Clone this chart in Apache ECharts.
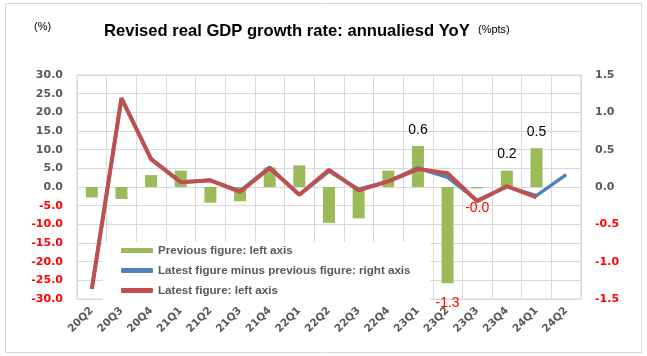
<!DOCTYPE html>
<html>
<head>
<meta charset="utf-8">
<script src="https://cdn.jsdelivr.net/npm/echarts@6/dist/echarts.min.js"></script>
<style>html,body{margin:0;padding:0;background:#fff}#c{width:647px;height:356px}</style>
</head>
<body>
<div id="c"></div>
<script>
const categories = ['20Q2','20Q3','20Q4','21Q1','21Q2','21Q3','21Q4','22Q1','22Q2','22Q3','22Q4','23Q1','23Q2','23Q3','23Q4','24Q1','24Q2'];
// green bars (right axis, %pts)
const barValues = [-0.14,-0.16,0.16,0.22,-0.21,-0.19,0.26,0.29,-0.48,-0.42,0.22,0.55,-1.29,-0.02,0.22,0.52,null];
// blue line (left axis, %)
const blueValues = [-27.3,23.8,7.6,1.3,1.8,-1.1,5.3,-2.1,4.2,-0.6,1.5,5.1,2.6,-3.6,0.1,-2.3,3.3];
// red line (left axis, %)
const redValues = [-27.3,23.8,7.4,1.3,1.8,-1.3,5.1,-2.1,4.6,-0.9,1.5,4.8,3.7,-3.8,0.2,-2.8,null];
const labeledIndex = [11,12,13,14,15];
const leftTicks = {min:-30, max:30, interval:5};
const rightTicks = {min:-1.5, max:1.5, interval:0.5};
const names = ['Previous figure: left axis','Latest figure minus previous figure: right axis','Latest figure: left axis'];

const GREEN='#9BBB59', BLUE='#4F81BD', RED='#C0504D', GRAY='#595959', GRID='#d9d9d9';
const axisFont = {fontFamily:'DejaVu Sans', fontWeight:'bold', fontSize:11, color:GRAY};

function tickFmt(v){ const s=v.toFixed(1); return v<0 ? '{n|'+s+'}' : '{p|'+s+'}'; }

const barData = barValues.map((v,i)=>{
  if (labeledIndex.indexOf(i) >= 0) {
    const neg = v < 0;
    return {value:v, label:{show:true, position: neg?'bottom':'top', distance: neg?13:9,
      color: neg?'#FF0000':'#000', fontFamily:'Liberation Sans', fontSize:14,
      formatter: p=>p.value.toFixed(1)}};
  }
  return v;
});

const chart = echarts.init(document.getElementById('c'), null, {renderer:'canvas'});
chart.setOption({
  animation:false,
  backgroundColor:'#fff',
  graphic:[
    {type:'rect', shape:{x:5.5,y:3.5,width:636,height:349}, style:{fill:'none', stroke:GRID, lineWidth:1}, z:-10},
    {type:'text', left:34, top:21, style:{text:'(%)', font:'11px "Liberation Sans"', fill:'#000'}},
    {type:'text', left:104, top:23, style:{text:'Revised real GDP growth rate: annualiesd YoY', font:'bold 16.6px "Liberation Sans"', fill:'#000'}},
    {type:'text', left:478, top:24, style:{text:'(%pts)', font:'11px "Liberation Sans"', fill:'#000'}}
  ],
  grid:{left:77, right:66, top:75, bottom:57, show:true, borderColor:GRID, borderWidth:1},
  legend:{
    orient:'vertical', left:103, top:242,
    backgroundColor:'#fff', padding:[2,20,4,18],
    itemWidth:32, itemHeight:5, itemGap:7,
    textStyle:{fontFamily:'Liberation Sans', fontWeight:'bold', fontSize:11.6, color:GRAY, lineHeight:13},
    data:[
      {name:names[0], icon:'rect'},
      {name:names[1], icon:'roundRect'},
      {name:names[2], icon:'roundRect'}
    ]
  },
  xAxis:{
    type:'category', data:categories, boundaryGap:true,
    axisLine:{onZero:false, lineStyle:{color:GRID}},
    axisTick:{show:false},
    splitLine:{show:true, lineStyle:{color:GRID, width:1}},
    axisLabel:Object.assign({rotate:45, margin:10, interval:0}, axisFont, {fontSize:10.5})
  },
  yAxis:[
    {type:'value', min:leftTicks.min, max:leftTicks.max, interval:leftTicks.interval,
     axisLine:{show:false}, axisTick:{show:false},
     splitLine:{show:true, lineStyle:{color:GRID, width:1}},
     axisLabel:{margin:14, formatter:tickFmt, rich:{p:axisFont, n:Object.assign({}, axisFont, {color:'#FF0000'})}}},
    {type:'value', min:rightTicks.min, max:rightTicks.max, interval:rightTicks.interval,
     axisLine:{show:false}, axisTick:{show:false}, splitLine:{show:false},
     axisLabel:{margin:14, formatter:tickFmt, rich:{p:axisFont, n:Object.assign({}, axisFont, {color:'#FF0000'})}}}
  ],
  series:[
    {name:names[0], type:'bar', yAxisIndex:1, data:barData, barWidth:12,
     itemStyle:{color:GREEN}, z:2},
    {name:names[1], type:'line', yAxisIndex:0, data:blueValues, symbol:'none',
     lineStyle:{color:BLUE, width:3.5}, itemStyle:{color:BLUE}, z:3},
    {name:names[2], type:'line', yAxisIndex:0, data:redValues, symbol:'none',
     lineStyle:{color:RED, width:4}, itemStyle:{color:RED}, z:4}
  ]
});
</script>
</body>
</html>
